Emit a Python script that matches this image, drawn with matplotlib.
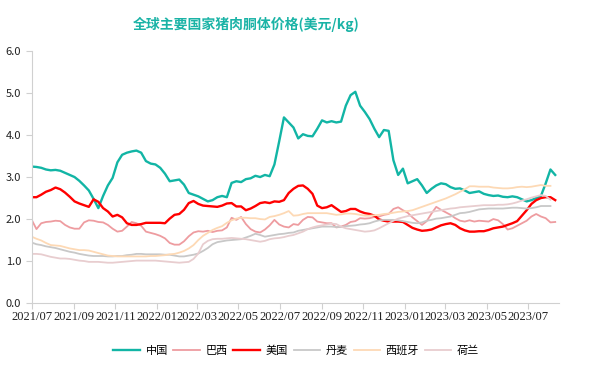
import matplotlib
matplotlib.use('Agg')
import matplotlib.pyplot as plt
import matplotlib.dates as mdates
import pandas as pd

plt.rcParams['font.family'] = ['Noto Sans CJK SC', 'DejaVu Sans']

# 周度数据, 2021-07-01 起
dates = pd.date_range('2021-07-01', periods=111, freq='7D')

china = [3.25, 3.24, 3.22, 3.18, 3.16, 3.17, 3.15, 3.10, 3.05, 3.00,
         2.91, 2.80, 2.68, 2.48, 2.26, 2.55, 2.80, 2.98, 3.35, 3.53,
         3.58, 3.61, 3.63, 3.58, 3.38, 3.32, 3.30, 3.22, 3.08, 2.90,
         2.92, 2.94, 2.82, 2.62, 2.58, 2.54, 2.48, 2.42, 2.45, 2.52,
         2.55, 2.52, 2.86, 2.90, 2.88, 2.95, 2.97, 3.03, 3.00, 3.05,
         3.02, 3.30, 3.85, 4.42, 4.30, 4.18, 3.92, 4.02, 3.98, 3.97,
         4.15, 4.35, 4.30, 4.33, 4.30, 4.32, 4.70, 4.95, 5.03, 4.70,
         4.55, 4.38, 4.15, 3.95, 4.12, 4.10, 3.40, 3.05, 3.20, 2.85,
         2.90, 2.95, 2.80, 2.62, 2.72, 2.80, 2.85, 2.83, 2.76, 2.72,
         2.73, 2.68, 2.62, 2.64, 2.66, 2.60, 2.57, 2.55, 2.56, 2.53,
         2.52, 2.54, 2.52, 2.47, 2.42, 2.45, 2.50, 2.55, 2.85, 3.18,
         3.05]

brazil = [1.98, 1.76, 1.90, 1.93, 1.94, 1.96, 1.95, 1.86, 1.80, 1.77,
          1.77, 1.92, 1.97, 1.96, 1.93, 1.92, 1.86, 1.77, 1.70, 1.72,
          1.82, 1.93, 1.90, 1.84, 1.70, 1.67, 1.64, 1.60, 1.54, 1.43,
          1.39, 1.39, 1.47, 1.59, 1.68, 1.71, 1.70, 1.72, 1.69, 1.72,
          1.73, 1.80, 2.03, 1.98, 2.05, 1.88, 1.76, 1.70, 1.68, 1.75,
          1.85, 1.98, 1.87, 1.82, 1.80, 1.88, 1.86, 1.98, 2.05, 2.04,
          1.94, 1.92, 1.90, 1.90, 1.80, 1.82, 1.86, 1.93, 1.95, 2.02,
          2.01, 2.02, 2.05, 2.06, 2.10, 2.12, 2.24, 2.28, 2.21, 2.15,
          2.04, 1.95, 1.86, 1.95, 2.13, 2.29, 2.22, 2.16, 2.10, 2.02,
          1.96, 1.94, 1.97, 1.94, 1.96, 1.95, 1.94, 2.00, 1.97, 1.88,
          1.75, 1.78, 1.84, 1.90, 1.96, 2.06, 2.12, 2.06, 2.02, 1.92,
          1.93]

usa = [2.52, 2.52, 2.58, 2.65, 2.69, 2.75, 2.71, 2.63, 2.53, 2.42,
       2.37, 2.33, 2.29, 2.47, 2.41, 2.26, 2.18, 2.06, 2.10, 2.04,
       1.90, 1.86, 1.86, 1.88, 1.91, 1.91, 1.91, 1.91, 1.90, 2.01,
       2.10, 2.12, 2.22, 2.38, 2.43, 2.36, 2.32, 2.31, 2.30, 2.29,
       2.32, 2.37, 2.38, 2.30, 2.30, 2.21, 2.25, 2.31, 2.38, 2.40,
       2.38, 2.42, 2.41, 2.45, 2.62, 2.72, 2.79, 2.80, 2.72, 2.60,
       2.32, 2.26, 2.28, 2.33, 2.25, 2.17, 2.19, 2.24, 2.24, 2.18,
       2.14, 2.12, 2.08, 1.99, 1.96, 1.94, 1.94, 1.94, 1.93, 1.86,
       1.79, 1.75, 1.72, 1.73, 1.75, 1.80, 1.85, 1.88, 1.90, 1.86,
       1.78, 1.73, 1.70, 1.70, 1.71, 1.71, 1.74, 1.78, 1.80, 1.82,
       1.86, 1.90, 1.95, 2.08, 2.21, 2.36, 2.45, 2.50, 2.52, 2.52,
       2.45]

denmark = [1.44, 1.40, 1.38, 1.35, 1.33, 1.31, 1.28, 1.25, 1.22, 1.20,
           1.17, 1.15, 1.13, 1.12, 1.12, 1.12, 1.11, 1.11, 1.12, 1.12,
           1.14, 1.15, 1.17, 1.17, 1.16, 1.16, 1.16, 1.16, 1.15, 1.15,
           1.13, 1.11, 1.11, 1.13, 1.15, 1.18, 1.24, 1.31, 1.40, 1.45,
           1.47, 1.49, 1.50, 1.51, 1.52, 1.56, 1.60, 1.65, 1.62, 1.58,
           1.60, 1.62, 1.64, 1.65, 1.67, 1.68, 1.72, 1.74, 1.76, 1.78,
           1.80, 1.82, 1.82, 1.82, 1.81, 1.81, 1.83, 1.84, 1.85, 1.87,
           1.88, 1.90, 1.94, 1.97, 1.98, 1.98, 1.98, 1.97, 1.95, 1.93,
           1.91, 1.90, 1.92, 1.96, 1.98, 2.01, 2.02, 2.04, 2.06, 2.10,
           2.14, 2.15, 2.17, 2.20, 2.23, 2.24, 2.25, 2.25, 2.25, 2.25,
           2.26, 2.27, 2.27, 2.26, 2.25, 2.26, 2.28, 2.31, 2.31, 2.31]

spain = [1.58, 1.53, 1.49, 1.43, 1.38, 1.37, 1.36, 1.33, 1.30, 1.28,
         1.26, 1.26, 1.25, 1.22, 1.19, 1.16, 1.13, 1.12, 1.11, 1.11,
         1.11, 1.11, 1.11, 1.11, 1.11, 1.12, 1.12, 1.13, 1.14, 1.16,
         1.17, 1.20, 1.24, 1.30, 1.38, 1.50, 1.60, 1.67, 1.74, 1.79,
         1.83, 1.91, 1.97, 2.01, 2.03, 2.03, 2.02, 2.02, 2.00, 1.99,
         2.05, 2.07, 2.10, 2.14, 2.19, 2.08, 2.09, 2.12, 2.14, 2.14,
         2.14, 2.14, 2.14, 2.12, 2.10, 2.11, 2.13, 2.13, 2.12, 2.10,
         2.08, 2.08, 2.09, 2.10, 2.12, 2.13, 2.15, 2.17, 2.18, 2.19,
         2.21, 2.25, 2.29, 2.33, 2.37, 2.41, 2.45, 2.49, 2.54, 2.59,
         2.65, 2.71, 2.78, 2.78, 2.77, 2.77, 2.77, 2.75, 2.74, 2.73,
         2.73, 2.74, 2.76, 2.77, 2.76, 2.77, 2.79, 2.81, 2.79, 2.79]

netherlands = [1.17, 1.17, 1.16, 1.13, 1.10, 1.08, 1.06, 1.06, 1.05, 1.03,
               1.01, 1.00, 0.98, 0.98, 0.98, 0.97, 0.96, 0.96, 0.97, 0.98,
               0.99, 1.00, 1.01, 1.01, 1.01, 1.01, 1.01, 1.00, 0.99, 0.98,
               0.97, 0.96, 0.97, 0.98, 1.05, 1.18, 1.40, 1.48, 1.52, 1.53,
               1.53, 1.54, 1.55, 1.54, 1.53, 1.52, 1.50, 1.48, 1.46, 1.48,
               1.52, 1.54, 1.55, 1.57, 1.60, 1.62, 1.66, 1.70, 1.76, 1.80,
               1.83, 1.85, 1.87, 1.89, 1.88, 1.82, 1.78, 1.76, 1.74, 1.72,
               1.70, 1.71, 1.73, 1.78, 1.84, 1.90, 1.96, 2.01, 2.04, 2.07,
               2.09, 2.11, 2.13, 2.15, 2.17, 2.19, 2.21, 2.23, 2.25, 2.26,
               2.28, 2.29, 2.30, 2.31, 2.32, 2.33, 2.33, 2.33, 2.34, 2.34,
               2.35, 2.37, 2.40, 2.44, 2.47, 2.51, 2.54, 2.57, 2.55, 2.46]

names = ['中国', '巴西', '美国', '丹麦', '西班牙', '荷兰']
colors = ['#12b5a5', '#ee9ca0', '#ff0000', '#c8c8c8', '#fdd9b5', '#e8cdcf']
series = [china, brazil, usa, denmark, spain, netherlands]
widths = [1.7, 1.3, 1.7, 1.3, 1.3, 1.3]

fig = plt.figure(figsize=(5.95, 3.7), dpi=100)
ax = fig.add_axes([0.0533, 0.181, 0.8867, 0.681])

for name, c, s, w in zip(names, colors, series, widths):
    ax.plot(dates[:len(s)], s, color=c, lw=w, label=name)

ax.set_ylim(0, 6)
ax.set_xlim(pd.Timestamp('2021-07-01'), pd.Timestamp('2023-08-16'))
ax.set_yticks([0, 1, 2, 3, 4, 5, 6])
ax.set_yticklabels([f'{v:.1f}' for v in range(7)], fontsize=8, color='#333333')
ax.xaxis.set_major_locator(mdates.MonthLocator(bymonth=[1, 3, 5, 7, 9, 11]))
ax.xaxis.set_major_formatter(mdates.DateFormatter('%Y/%m'))
for lab in ax.get_xticklabels():
    lab.set_family('Liberation Serif')
    lab.set_fontsize(9)

for side in ['top', 'right']:
    ax.spines[side].set_visible(False)
for side in ['left', 'bottom']:
    ax.spines[side].set_color('#d0d0d0')
ax.tick_params(axis='both', colors='#d0d0d0', length=4, width=0.8, labelcolor='#222222')
ax.tick_params(axis='x', pad=2)

fig.text(0.413, 0.935, '全球主要国家猪肉胴体价格(美元/kg)', ha='center', va='center',
         fontsize=10, fontweight='bold', color='#1ab3a6')

fig.legend(loc='center', bbox_to_anchor=(0.498, 0.052), ncol=6, frameon=False,
           fontsize=8, handlelength=2.4, columnspacing=0.5, handletextpad=0.5)

fig.savefig('out.png', dpi=100)
